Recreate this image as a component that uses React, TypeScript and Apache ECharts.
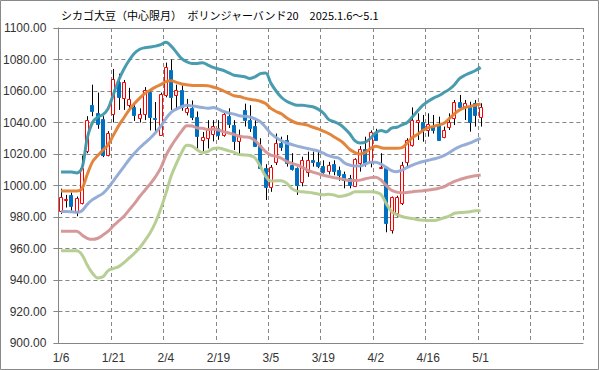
import React, { useEffect, useRef } from "react";
import * as echarts from "echarts";

const dates = [
  "1/6","1/7","1/8","1/9","1/10","1/13","1/14","1/15","1/16","1/17",
  "1/21","1/22","1/23","1/24","1/27","1/28","1/29","1/30","1/31","2/3",
  "2/4","2/5","2/6","2/7","2/10","2/11","2/12","2/13","2/14","2/18",
  "2/19","2/20","2/21","2/24","2/25","2/26","2/27","2/28","3/3","3/4",
  "3/5","3/6","3/7","3/10","3/11","3/12","3/13","3/14","3/17","3/18",
  "3/19","3/20","3/21","3/24","3/25","3/26","3/27","3/28","3/31","4/1",
  "4/2","4/3","4/4","4/7","4/8","4/9","4/10","4/11","4/14","4/15",
  "4/16","4/17","4/21","4/22","4/23","4/24","4/25","4/28","4/29","4/30",
  "5/1",
];
const axisSlots = 100;

const open = [
  983.5, 990.5, 994, 983, 989, 1022, 1051, 1046, 1042.5, 1019.5,
  1045.5, 1065.5, 1055.5, 1051, 1050, 1042.7, 1045.2, 1059.5, 1043, 1032,
  1057.5, 1073.5, 1057.5, 1060.5, 1046.5, 1049.5, 1043.5, 1029, 1030, 1033,
  1036.5, 1031.8, 1044, 1038.4, 1028.5, 1048, 1041.6, 1037.8, 1026, 1010.9,
  999, 1015, 1027.3, 1029, 1013, 1010.9, 1002, 1008.8, 1016.2, 1014.7,
  1012.4, 1009.3, 1013.4, 1010, 1007.3, 1004.5, 1000, 1014.5, 1023.3, 1015,
  1033.5, 1011, 1011.3, 971.8, 982.8, 988.7, 1015.1, 1025.7, 1040.5, 1040.1,
  1035.2, 1038, 1038.4, 1030.6, 1037.4, 1043, 1052.8, 1049.6, 1049.6, 1052.2,
  1043.7,
];
const high = [
  998, 994, 995.5, 993, 1019, 1044, 1064, 1059, 1044, 1034.5,
  1074, 1071, 1067, 1062, 1051.5, 1049, 1062.5, 1061, 1053, 1059,
  1078, 1080, 1064, 1063.5, 1055, 1054, 1047, 1034, 1041.5, 1041.5,
  1041.5, 1046, 1049, 1041.5, 1035.5, 1052, 1051, 1041.6, 1030, 1013.5,
  1013, 1033, 1031, 1032, 1020.5, 1011.5, 1018.3, 1021.5, 1021.5, 1021.5,
  1016, 1015, 1016, 1012, 1008.8, 1006.7, 1017.3, 1025, 1031, 1035,
  1036, 1020.5, 1012, 993, 993.5, 1015, 1030, 1049.6, 1045.8, 1044.8,
  1045.8, 1044.8, 1043.7, 1037.4, 1045.8, 1054.3, 1057.5, 1054.3, 1053.2, 1054.3,
  1052.2,
];
const low = [
  982, 986, 984, 980.5, 988, 1020.5, 1044, 1036, 1018, 1018.5,
  1040, 1048, 1048, 1048, 1041, 1040, 1041.5, 1035, 1034, 1031.5,
  1056, 1048, 1048.5, 1047.5, 1044.5, 1041.5, 1023.5, 1021.5, 1023.5, 1028,
  1029, 1031, 1036.5, 1022.5, 1019.5, 1037.5, 1034, 1025, 1010.5, 990.8,
  996, 1013, 1022, 1012, 1009.5, 994, 999.5, 1005.5, 1012, 1011,
  1007.5, 1007, 1006.5, 1003, 998.2, 998.2, 999, 1008.8, 1012, 1011.5,
  1028.5, 1011, 970.3, 969.5, 980, 987.6, 1012, 1024.7, 1028.9, 1027.8,
  1031, 1033, 1028.5, 1030, 1035.2, 1038.4, 1049, 1041.6, 1034.2, 1037.4,
  1037.4,
];
const close = [
  992.5, 991.5, 987, 992, 1011, 1041.5, 1047, 1039, 1019.5, 1033.5,
  1067.5, 1056.5, 1065.5, 1055, 1045, 1045.2, 1060.6, 1043.5, 1042, 1058,
  1075, 1056.5, 1060.5, 1050, 1049.5, 1043.2, 1031.5, 1030.5, 1035.5, 1038,
  1032, 1045.3, 1039, 1028.5, 1031.5, 1041.6, 1036.8, 1025.2, 1011, 999,
  1011.5, 1027.3, 1024.7, 1014, 1010.7, 1000.3, 1016, 1016.2, 1015.2, 1012.6,
  1008.3, 1012.8, 1009.3, 1006.7, 1003.5, 1000.3, 1016.7, 1023.3, 1014.5, 1034.2,
  1029.2, 1011.8, 976.3, 992.7, 992.5, 1012.8, 1028.9, 1041.6, 1041.5, 1035.2,
  1038.8, 1035.2, 1028.9, 1035.2, 1040.5, 1052.8, 1049.6, 1052.2, 1040.5, 1044.8,
  1049.6,
];

// Bollinger bands (20)
const upper2 = [
  1008.5, 1008.5, 1008.5, 1008, 1011, 1030, 1040, 1043.5, 1045, 1049,
  1058, 1067, 1074, 1079.5, 1084, 1086.5, 1087.5, 1088, 1088.5, 1089.5,
  1091, 1088.5, 1084.5, 1080.5, 1078.5, 1077.5, 1077.5, 1078, 1076.5, 1075,
  1074, 1073, 1071.5, 1070, 1069.5, 1069, 1068, 1069, 1071, 1071.5,
  1065, 1060, 1056, 1053.5, 1052, 1051, 1051, 1050.5, 1050, 1048.5,
  1046, 1042, 1040.5, 1039, 1036.5, 1033, 1028.5, 1027, 1027.5, 1030,
  1033.5, 1035, 1034, 1036.5, 1037, 1038.5, 1040, 1043.7, 1047.5, 1051,
  1053.5, 1055.5, 1057, 1059, 1061, 1064, 1068, 1070, 1071.5, 1073,
  1075,
];
const upper1 = [
  996.5, 996.5, 996.5, 996.5, 998, 1007, 1015, 1019, 1022.5, 1026,
  1032, 1038, 1043, 1048, 1052, 1055.5, 1058.5, 1060.5, 1062.5, 1064,
  1066, 1066.5, 1065.5, 1064.5, 1064, 1063.5, 1063.5, 1063.5, 1063.3, 1062.5,
  1061.5, 1060, 1058.5, 1057, 1056.5, 1055.5, 1054.7, 1054.3, 1053.5, 1052,
  1049, 1047, 1045.5, 1043, 1041, 1039.5, 1039, 1038.3, 1037, 1036,
  1034.5, 1033, 1031, 1029, 1026.5, 1023, 1021, 1020, 1021, 1023.5,
  1025, 1024, 1023.6, 1023.6, 1023.6, 1024, 1027, 1030.5, 1032.5, 1035,
  1036.7, 1037.5, 1038.4, 1039.5, 1042.5, 1045.5, 1048, 1049.5, 1050.2, 1051,
  1051.7,
];
const ma20 = [
  983.5, 983.5, 983.3, 983, 984, 988, 991, 993, 995, 998.5,
  1003, 1007.5, 1012, 1016.5, 1020.5, 1024, 1027, 1030, 1033.5, 1037.5,
  1042.5, 1046.5, 1048.5, 1050, 1051, 1050.5, 1050, 1049.5, 1049, 1049.5,
  1048.5, 1047, 1046, 1045.3, 1044.3, 1043.9, 1043.5, 1042.3, 1040.5, 1037,
  1033, 1030.5, 1028.5, 1027, 1026, 1025, 1024.2, 1023.5, 1022.8, 1022,
  1020.5, 1019, 1018, 1017.3, 1014.5, 1013, 1012.4, 1012.4, 1013.5, 1014.8,
  1014.8, 1013.5, 1011.5, 1009.5, 1008.8, 1009.8, 1011.5, 1013, 1014.2, 1015.2,
  1016, 1016.8, 1017.7, 1019, 1020.8, 1023, 1024.7, 1025.9, 1027, 1028.5,
  1030,
];
const lower1 = [
  971, 971, 971, 971, 968.6, 966.5, 965.8, 966.5, 968.5, 971,
  974.5, 977.5, 980.5, 984.5, 988.5, 993, 997, 1001, 1005.5, 1011,
  1019, 1025, 1030, 1034.5, 1038, 1037.8, 1036.5, 1036.3, 1035.5, 1035.8,
  1035.2, 1034.2, 1033.3, 1032.4, 1031.3, 1030.8, 1030.5, 1028.5, 1025, 1021.5,
  1019.3, 1018.6, 1017.3, 1015.3, 1014, 1013, 1011.5, 1009.8, 1008.5, 1007.5,
  1006.5, 1005.8, 1005, 1004.5, 1003.8, 1003.1, 1003.2, 1003.4, 1004.3, 1005,
  1005.3, 1003.5, 1000, 997, 995.8, 995.4, 995.6, 996.1, 996.4, 996.7,
  997.2, 997.6, 998.3, 999.2, 1001, 1002.6, 1003.8, 1004.8, 1005.6, 1006.2,
  1006.7,
];
const lower2 = [
  958.5, 958.5, 958.5, 958.5, 956, 949.5, 944.3, 941.3, 942, 946,
  947.3, 948.5, 951, 954, 957, 960.5, 965, 970, 976.5, 985,
  995, 1006, 1014, 1021, 1025.5, 1025, 1022.5, 1021, 1021.5, 1023.5,
  1023.8, 1023, 1022, 1021, 1019.6, 1019.4, 1019, 1017.5, 1012, 1006,
  1002.8, 1003, 1003, 1001.5, 998, 996.4, 996, 995.7, 995.3, 994.6,
  994.2, 994.5, 994, 993, 993.5, 994.5, 996, 996.1, 996.1, 996,
  995.7, 994.3, 988.5, 983.5, 981.5, 980.3, 979.5, 979, 978.3, 978,
  977.7, 977.7, 978.4, 979.5, 980.6, 982.4, 982.8, 983, 983.4, 984,
  984,
];

const yTicks = { min: 900, max: 1100, step: 20 };
const titleMain = "シカゴ大豆（中心限月）　ボリンジャーバンド20　2025.1.6～5.1";

export default function App() {
  const ref = useRef<HTMLDivElement>(null);
  useEffect(() => {
    document.body.style.margin = "0";
    const chart = echarts.init(ref.current!, null, { renderer: "svg" });
    const cats = dates.concat(Array(axisSlots - dates.length).fill(""));
    const candleData = dates.map((_, i) => [i, open[i], close[i], low[i], high[i]]);
    const gridColor = "#868686";
    const textColor = "#333333";
    const font = "'Liberation Sans', Arial, sans-serif";

    const lineSeries = (name: string, data: number[], color: string) => ({
      type: "line",
      name,
      data,
      smooth: 0.35,
      symbol: "none",
      z: 5,
      silent: true,
      lineStyle: { color, width: 3, opacity: 0.95 },
    });

    chart.setOption({
      animation: false,
      grid: { left: 58, right: 16, top: 28, bottom: 27 },
      xAxis: [
        {
          type: "category",
          data: cats,
          boundaryGap: true,
          axisLine: { lineStyle: { color: gridColor } },
          axisTick: { interval: 9, length: 4, lineStyle: { color: gridColor } },
          axisLabel: { interval: 9, margin: 9, color: textColor, fontSize: 12, fontFamily: font },
          splitLine: { show: true, interval: 9, lineStyle: { color: gridColor, type: [4, 3] } },
        },
        {
          type: "category",
          data: cats,
          position: "top",
          axisLine: { show: true, lineStyle: { color: gridColor } },
          axisTick: { show: false },
          axisLabel: { show: false },
          splitLine: { show: false },
        },
      ],
      yAxis: {
        type: "value",
        min: yTicks.min,
        max: yTicks.max,
        interval: yTicks.step,
        axisLine: { show: true, lineStyle: { color: gridColor } },
        axisTick: { show: true, length: 5, lineStyle: { color: gridColor } },
        axisLabel: {
          formatter: (v: number) => v.toFixed(2),
          margin: 12,
          color: textColor,
          fontSize: 12,
          fontFamily: font,
        },
        splitLine: { show: true, lineStyle: { color: gridColor, type: [4, 3] } },
      },
      series: [
        {
          type: "custom",
          name: "OHLC",
          clip: true,
          z: 2,
          silent: true,
          encode: { x: 0, y: [1, 2, 3, 4] },
          data: candleData,
          renderItem: (params: any, api: any) => {
            const i = api.value(0);
            const o = api.value(1);
            const c = api.value(2);
            const l = api.value(3);
            const h = api.value(4);
            const pO = api.coord([i, o]);
            const pC = api.coord([i, c]);
            const pL = api.coord([i, l]);
            const pH = api.coord([i, h]);
            const cx = Math.round(pO[0]);
            const up = c >= o;
            const top = Math.round(Math.min(pO[1], pC[1]));
            const bot = Math.round(Math.max(pO[1], pC[1]));
            const hh = Math.max(bot - top, 1);
            return {
              type: "group",
              children: [
                {
                  type: "line",
                  shape: { x1: cx + 0.5, y1: pH[1], x2: cx + 0.5, y2: pL[1] },
                  style: { stroke: "#000000", lineWidth: 1 },
                },
                {
                  type: "rect",
                  shape: { x: cx - 1.5, y: top + 0.5, width: 3, height: hh },
                  style: {
                    fill: up ? "#ffffff" : "#0070C0",
                    stroke: up ? "#FF0000" : "#0070C0",
                    lineWidth: 1,
                  },
                },
              ],
            };
          },
        },
        lineSeries("+2σ", upper2, "#3F97AB"),
        lineSeries("+1σ", upper1, "#E08034"),
        lineSeries("MA20", ma20, "#8FAAD6"),
        lineSeries("-1σ", lower1, "#D49494"),
        lineSeries("-2σ", lower2, "#B3CB8F"),
      ],
      graphic: [
        {
          type: "rect",
          silent: true,
          z: -1,
          shape: { x: 0.5, y: 0.5, width: 598, height: 369 },
          style: { fill: "none", stroke: "#898989", lineWidth: 1 },
        },
        {
          type: "text",
          silent: true,
          style: {
            text: titleMain,
            x: 61,
            y: 15,
            verticalAlign: "middle",
            fill: "#000000",
            font: "11px 'Noto Sans CJK JP', sans-serif",
          },
        },
      ],
    });
    return () => chart.dispose();
  }, []);
  return <div ref={ref} style={{ width: 599, height: 370 }} />;
}
